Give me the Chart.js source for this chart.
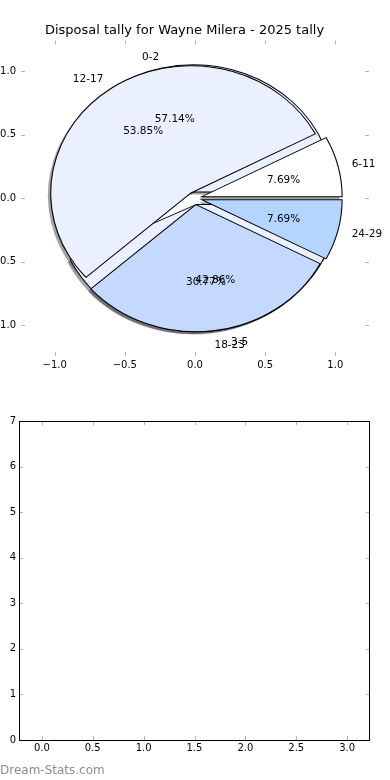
<!doctype html>
<html lang="en">

<head>
  <meta charset="utf-8">
  <title>Disposal tally for Wayne Milera - 2025 tally</title>
  <style>
    body { margin: 0; background: #fff; }
    #lienzo { position: relative; width: 390px; height: 780px; overflow: hidden; }
    #lienzo canvas { position: absolute; left: 0; }
    #marca { position: absolute; left: 0; top: 763px; font: 12px "DejaVu Sans", sans-serif; color: #8c8c8c; }
  </style>
</head>

<body>
  <div id="lienzo">
    <canvas id="pieBack" width="390" height="380" style="top:0"></canvas>
    <canvas id="pieFront" width="390" height="380" style="top:0"></canvas>
    <canvas id="vacio" width="390" height="400" style="top:380px"></canvas>
    <div id="marca">Dream-Stats.com</div>
  </div>

  <script src="https://cdn.jsdelivr.net/npm/chart.js"></script>

  <script>
    const titulo = 'Disposal tally for Wayne Milera - 2025 tally';

    // pie drawn on top (4 wedges)
    const rangosA = ['6-11', '12-17', '18-23', '24-29'];
    const partidosA = [1, 7, 4, 1];
    const coloresA = ['#ffffff', '#eaf0fe', '#c5d8fe', '#b3d5ff'];

    // pie underneath (2 wedges), only its labels and edges show
    const rangosB = ['0-2', '3-5'];
    const partidosB = [4, 3];
    const coloresB = ['#eaf0fe', '#eaf0fe'];

    const ticksPie = [-1, -0.5, 0, 0.5, 1];
    const ticksX = [0, 0.5, 1, 1.5, 2, 2.5, 3];
    const ticksY = [0, 1, 2, 3, 4, 5, 6, 7];

    const EXPLODE = 0.05;
    const LABEL_DIST = 1.1;
    const PCT_DIST = 0.6;
    const fuente = '"DejaVu Sans", sans-serif';

    let frontChart = null;
    let backChart = null;

    function fmtTick(v) {
      return (v < 0 ? '\u2212' : '') + Math.abs(v).toFixed(1);
    }

    function shadowOf(hex) {
      const n = parseInt(hex.slice(1), 16);
      const r = (n >> 16) & 255, g = (n >> 8) & 255, b = n & 255;
      return `rgba(${Math.round(r * .3)},${Math.round(g * .3)},${Math.round(b * .3)},0.5)`;
    }

    // the old pie is not drawn with equal aspect: stretch the circle onto the axis units
    function applyEllipse(chart, ctx, arc) {
      const sx = chart.scales.x, sy = chart.scales.y;
      const ux = sx.getPixelForValue(1) - sx.getPixelForValue(0);
      const uy = sy.getPixelForValue(0) - sy.getPixelForValue(1);
      ctx.translate(sx.getPixelForValue(0), sy.getPixelForValue(0));
      ctx.scale(ux / arc.outerRadius, -uy / arc.outerRadius);
      ctx.translate(-arc.x, -arc.y);
    }

    function drawWedges(chart, ctx, shadow) {
      const meta = chart.getDatasetMeta(0);
      meta.data.forEach(arc => {
        const mid = (arc.startAngle + arc.endAngle) / 2;
        const d = EXPLODE * arc.outerRadius;
        ctx.save();
        applyEllipse(chart, ctx, arc);
        ctx.translate(Math.cos(mid) * d, Math.sin(mid) * d);
        if (shadow) {
          ctx.translate(-0.02 * arc.outerRadius, -0.02 * arc.outerRadius);
          const opts = arc.options;
          const sc = shadowOf(opts.backgroundColor);
          arc.options = Object.assign({}, opts, { backgroundColor: sc, borderColor: sc, borderWidth: 0 });
          arc.draw(ctx);
          arc.options = opts;
        } else {
          arc.draw(ctx);
        }
        ctx.restore();
      });
    }

    // labels at 1.1 and percentages at 0.6 of the radius, from the exploded centre
    function drawLabels(chart, ctx, labels, values) {
      const sx = chart.scales.x, sy = chart.scales.y;
      const total = values.reduce((a, b) => a + b, 0);
      ctx.save();
      ctx.font = '10.5px ' + fuente;
      ctx.fillStyle = '#000';
      ctx.textBaseline = 'middle';
      chart.getDatasetMeta(0).data.forEach((arc, i) => {
        const mid = (arc.startAngle + arc.endAngle) / 2;
        const cx = Math.cos(mid), cy = Math.sin(mid);
        const ex = EXPLODE * cx, ey = EXPLODE * cy;
        const lx = ex + LABEL_DIST * cx, ly = ey + LABEL_DIST * cy;
        ctx.textAlign = lx > 0 ? 'left' : 'right';
        ctx.fillText(labels[i], sx.getPixelForValue(lx), sy.getPixelForValue(ly) + 1.5);
        ctx.textAlign = 'center';
        ctx.fillText((values[i] / total * 100).toFixed(2) + '%',
          sx.getPixelForValue(ex + PCT_DIST * cx), sy.getPixelForValue(ey + PCT_DIST * cy) + 1.5);
      });
      ctx.restore();
    }

    // small inward ticks on all four sides, optional black frame
    function tickMarks(frame) {
      return {
        id: 'tickMarks',
        afterDraw(chart) {
          const { ctx, chartArea: a, scales: { x, y } } = chart;
          ctx.save();
          ctx.strokeStyle = '#b4b4b4';
          ctx.lineWidth = 1;
          ctx.beginPath();
          x.ticks.forEach(t => {
            const px = Math.round(x.getPixelForValue(t.value)) + 0.5;
            ctx.moveTo(px, a.top); ctx.lineTo(px, a.top + 4);
            ctx.moveTo(px, a.bottom); ctx.lineTo(px, a.bottom - 4);
          });
          y.ticks.forEach(t => {
            const py = Math.round(y.getPixelForValue(t.value)) + 0.5;
            ctx.moveTo(a.left, py); ctx.lineTo(a.left + 4, py);
            ctx.moveTo(a.right, py); ctx.lineTo(a.right - 4, py);
          });
          ctx.stroke();
          if (frame) {
            ctx.strokeStyle = '#000';
            ctx.strokeRect(Math.round(a.left) + 0.5, Math.round(a.top) + 0.5,
              Math.round(a.width) - 1, Math.round(a.height));
          }
          ctx.restore();
        }
      };
    }

    function pieOptions(visible) {
      const ink = visible ? '#000' : 'rgba(0,0,0,0)';
      const tickFont = { family: fuente, size: 10 };
      return {
        responsive: false,
        animation: false,
        events: [],
        rotation: 90,
        layout: { padding: { right: 21 } },
        plugins: {
          legend: { display: false },
          tooltip: { enabled: false },
          title: {
            display: true, text: titulo, color: ink,
            font: { family: fuente, size: 13, weight: 'normal' },
            padding: { top: 22.6, bottom: 2.2 }
          }
        },
        scales: {
          x: {
            type: 'linear', position: 'bottom', min: -1.24, max: 1.24,
            afterBuildTicks: s => { s.ticks = ticksPie.map(v => ({ value: v })); },
            grid: { display: false, drawTicks: false },
            border: { display: false },
            ticks: { color: ink, padding: 3, font: tickFont, callback: fmtTick },
            afterFit: s => { s.height = 24; }
          },
          y: {
            type: 'linear', position: 'left', min: -1.24, max: 1.24,
            afterBuildTicks: s => { s.ticks = ticksPie.map(v => ({ value: v })); },
            grid: { display: false, drawTicks: false },
            border: { display: false },
            ticks: { color: ink, padding: 5, font: tickFont, callback: fmtTick },
            afterFit: s => { s.width = 21; }
          }
        }
      };
    }

    function pieDataset(values, colors) {
      return {
        data: values,
        backgroundColor: colors,
        borderColor: '#000',
        borderWidth: 1.2,
        borderJoinStyle: 'miter',
        offset: 0
      };
    }

    // Front pie: own wedges, every label, ticks and title
    frontChart = new Chart(document.getElementById('pieFront'), {
      type: 'pie',
      data: { labels: rangosA, datasets: [pieDataset(partidosA, coloresA)] },
      options: pieOptions(true),
      plugins: [{
        id: 'frontPie',
        beforeDatasetsDraw(chart) {
          drawWedges(chart, chart.ctx, false);
          return false;
        },
        afterDraw(chart) {
          if (backChart) drawLabels(backChart, chart.ctx, rangosB, partidosB);
          drawLabels(chart, chart.ctx, rangosA, partidosA);
        }
      }, tickMarks(false)]
    });

    // Back pie: shadows of both pies, then its own wedges
    backChart = new Chart(document.getElementById('pieBack'), {
      type: 'pie',
      data: { labels: rangosB, datasets: [pieDataset(partidosB, coloresB)] },
      options: pieOptions(false),
      plugins: [{
        id: 'backPie',
        beforeDatasetsDraw(chart) {
          drawWedges(chart, chart.ctx, true);
          drawWedges(frontChart, chart.ctx, true);
          drawWedges(chart, chart.ctx, false);
          return false;
        }
      }]
    });

    frontChart.draw();

    // Empty second axes
    const tickFont = { family: fuente, size: 10 };
    new Chart(document.getElementById('vacio'), {
      type: 'scatter',
      data: { datasets: [{ data: [] }] },
      options: {
        responsive: false,
        animation: false,
        events: [],
        layout: { padding: { top: 41, right: 20 } },
        plugins: { legend: { display: false }, tooltip: { enabled: false } },
        scales: {
          x: {
            type: 'linear', min: -0.225, max: 3.225,
            afterBuildTicks: s => { s.ticks = ticksX.map(v => ({ value: v })); },
            grid: { display: false, drawTicks: false },
            border: { display: false },
            ticks: { color: '#000', padding: 2, font: tickFont, callback: v => v.toFixed(1) },
            afterFit: s => { s.height = 40; }
          },
          y: {
            type: 'linear', min: 0, max: 7,
            afterBuildTicks: s => { s.ticks = ticksY.map(v => ({ value: v })); },
            grid: { display: false, drawTicks: false },
            border: { display: false },
            ticks: { color: '#000', padding: 3, font: tickFont, callback: v => String(v) },
            afterFit: s => { s.width = 19; }
          }
        }
      },
      plugins: [tickMarks(true)]
    });
  </script>
</body>

</html>
